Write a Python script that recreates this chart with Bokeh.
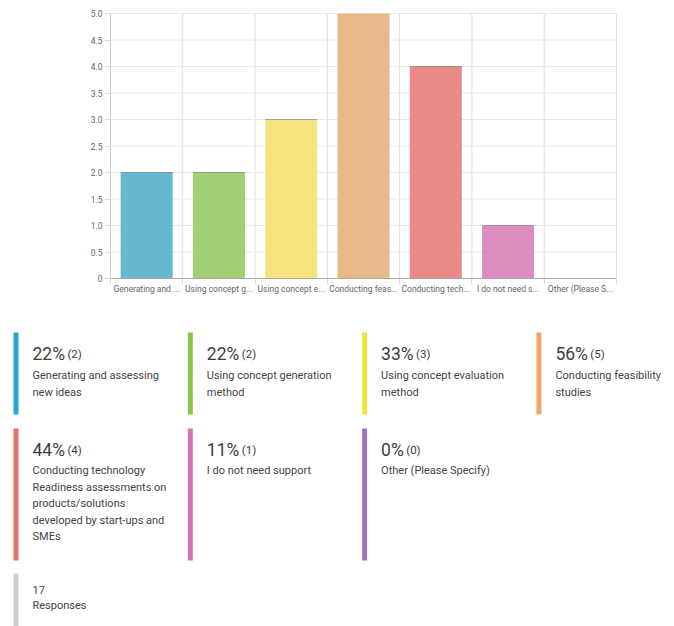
from bokeh.plotting import figure
from bokeh.models import FixedTicker, ColumnDataSource, Range1d, LinearAxis
from bokeh.core.properties import value
from bokeh.embed import file_html
from bokeh.resources import INLINE

# ---------------- data ----------------
short_labels = ["Generating and ...", "Using concept g...", "Using concept e...",
                "Conducting feas...", "Conducting tech...", "I do not need s...",
                "Other (Please S..."]
counts = [2, 2, 3, 5, 4, 1, 0]
percents = [22, 22, 33, 56, 44, 11, 0]
full_labels = ["Generating and assessing\nnew ideas",
               "Using concept generation\nmethod",
               "Using concept evaluation\nmethod",
               "Conducting feasibility\nstudies",
               "Conducting technology\nReadiness assessments on\nproducts/solutions\ndeveloped by start-ups and\nSMEs",
               "I do not need support",
               "Other (Please Specify)"]
bar_colors = ["#66b9cf", "#a1d072", "#f5e47c", "#e9b889", "#e98a84", "#db8dc0", "#b49bd3"]
stripe_colors = ["#25a9cc", "#8bc34a", "#f4e03e", "#eca66c", "#e8716f", "#d772b4", "#9c77c1"]
responses = 17
responses_label = "Responses"
y_ticks = [0, 0.5, 1.0, 1.5, 2.0, 2.5, 3.0, 3.5, 4.0, 4.5, 5.0]

FONT = value("Roboto")

# ---------------- geometry (pixels) ----------------
W, H = 674, 626
AX_L, AX_R = 110, 616      # pixel columns of the chart's left / right edges
AX_B, AX_T = 278, 13       # pixel rows of y=0 / y=max
n = len(counts)
ymax = y_ticks[-1]
kx = (AX_R - AX_L) / n
ky = (AX_B - AX_T) / ymax

p = figure(width=W, height=H,
           x_range=Range1d(-AX_L / kx, (W - AX_L) / kx),
           y_range=Range1d(-(H - AX_B) / ky, ymax + AX_T / ky),
           output_backend="svg", toolbar_location=None,
           x_axis_location=None, y_axis_location=None, min_border=0)
p.extra_x_ranges = {"px": Range1d(0, W)}
p.extra_y_ranges = {"py": Range1d(H, 0)}
p.outline_line_color = None
p.grid.visible = False

# ---------------- bar chart ----------------
xs = [i + 0.5 for i in range(n)]
bounds = list(range(n + 1))
src = ColumnDataSource(dict(x=xs, top=counts, color=bar_colors))
edge = [(x, c) for x, c in zip(xs, counts) if 0 < c < ymax]
edge_src = ColumnDataSource(dict(x0=[x - 0.36 for x, _ in edge],
                                 x1=[x + 0.36 for x, _ in edge],
                                 y=[c for _, c in edge]))

# grid lines
p.segment(x0=bounds, x1=bounds, y0=[0] * len(bounds), y1=[ymax] * len(bounds),
          line_color="#dedede", line_width=1)
p.segment(x0=[0] * len(y_ticks), x1=[n] * len(y_ticks), y0=y_ticks, y1=y_ticks,
          line_color="#e8e8e8", line_width=1)

p.vbar(x="x", top="top", width=0.72, color="color", source=src, line_color=None)
p.segment(x0="x0", x1="x1", y0="y", y1="y", source=edge_src,
          line_color="#6b6b6b", line_alpha=0.55, line_width=1)

xaxis = LinearAxis(fixed_location=0, bounds=(0, n),
                   ticker=FixedTicker(ticks=xs, minor_ticks=bounds))
xaxis.major_label_overrides = {x: lab for x, lab in zip(xs, short_labels)}
xaxis.major_tick_line_color = None
xaxis.major_tick_in = 0
xaxis.major_tick_out = 0
xaxis.minor_tick_in = 0
xaxis.minor_tick_out = 5
xaxis.minor_tick_line_color = "#d5d5d5"
xaxis.axis_line_color = "#a8a8a8"
xaxis.major_label_standoff = 0
xaxis.major_label_text_font = "Roboto"
xaxis.major_label_text_font_size = "8.5px"
xaxis.major_label_text_color = "#666666"
p.add_layout(xaxis, "below")

yaxis = LinearAxis(fixed_location=0, bounds=(0, ymax), ticker=FixedTicker(ticks=y_ticks))
yaxis.major_label_overrides = {t: ("0" if t == 0 else f"{t:.1f}") for t in y_ticks}
yaxis.minor_tick_line_color = None
yaxis.major_tick_in = 0
yaxis.major_tick_out = 6
yaxis.major_tick_line_color = "#dddddd"
yaxis.axis_line_color = "#cccccc"
yaxis.major_label_standoff = 2
yaxis.major_label_text_font = "Roboto"
yaxis.major_label_text_font_size = "8.5px"
yaxis.major_label_text_color = "#666666"
p.add_layout(yaxis, "left")

# ---------------- cards ----------------
CARD_X0, CARD_DX = 13.0, 174.3
ROW_TOP = [332, 428]
ROW_BOT = [414, 560]
PCT_BASE = [353.5, 449.5]
DESC_BASE = [375.0, 470.0]
LINE_H = 16.6
TXT_DX = 19

stripe_l, stripe_r, stripe_t, stripe_b = [], [], [], []
pct_x, pct_y, pct_txt, cnt_x, cnt_txt = [], [], [], [], []
line_x, line_y, line_txt = [], [], []
for i in range(n):
    c, r = i % 4, i // 4
    sx = CARD_X0 + c * CARD_DX
    stripe_l.append(sx)
    stripe_r.append(sx + 5)
    stripe_t.append(ROW_TOP[r])
    stripe_b.append(ROW_BOT[r])
    pct_x.append(sx + TXT_DX)
    pct_y.append(PCT_BASE[r])
    pct_txt.append(f"{percents[i]}%")
    w = 17.5 * (0.5615 * len(str(percents[i])) + 0.73)
    cnt_x.append(sx + TXT_DX + w + 2.5)
    cnt_txt.append(f"({counts[i]})")
    for k, line in enumerate(full_labels[i].split("\n")):
        line_x.append(sx + TXT_DX)
        line_y.append(DESC_BASE[r] + k * LINE_H)
        line_txt.append(line)

# responses card
stripe_l.append(CARD_X0)
stripe_r.append(CARD_X0 + 5)
stripe_t.append(573)
stripe_b.append(H)
for k, line in enumerate([str(responses), responses_label]):
    line_x.append(CARD_X0 + TXT_DX)
    line_y.append(589 + k * 16)
    line_txt.append(line)

p.quad(left=stripe_l, right=stripe_r, top=stripe_t, bottom=stripe_b,
       color=stripe_colors + ["#cfcfcf"], line_color=None,
       x_range_name="px", y_range_name="py")
p.text(x=pct_x, y=pct_y, text=pct_txt, text_font=FONT, text_font_size="17.5px",
       text_color="#3c3c3c", text_baseline="alphabetic",
       x_range_name="px", y_range_name="py")
p.text(x=cnt_x, y=pct_y, text=cnt_txt, text_font=FONT, text_font_size="11.5px",
       text_color="#3c3c3c", text_baseline="alphabetic",
       x_range_name="px", y_range_name="py")
p.text(x=line_x, y=line_y, text=line_txt, text_font=FONT, text_font_size="11px",
       text_color="#444444", text_baseline="alphabetic",
       x_range_name="px", y_range_name="py")

open("out.html", "w").write(file_html(p, INLINE))
